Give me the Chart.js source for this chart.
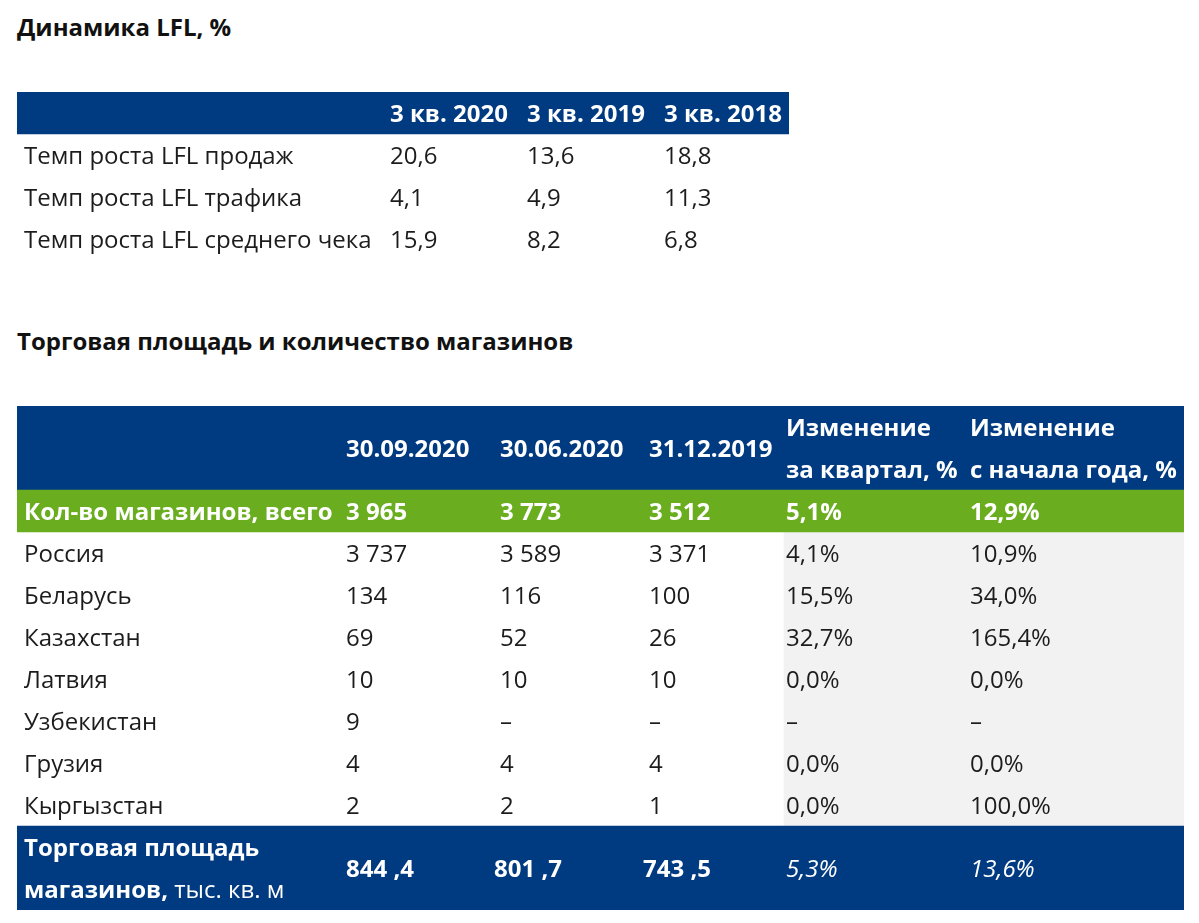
<!DOCTYPE html>
<html lang="ru">
<head>
<meta charset="utf-8">
<title>Динамика LFL и торговая площадь</title>
<script src="https://cdn.jsdelivr.net/npm/chart.js@4.4.1/dist/chart.umd.min.js"></script>
<style>
  body { margin: 0; background: #fff; width: 1199px; height: 923px; position: relative; overflow: hidden; }
  .title { position: absolute; left: 17px; font: bold 24px "Open Sans", sans-serif; color: #111; line-height: 30px; }
  canvas { position: absolute; }
</style>
</head>
<body>
<div class="title" style="top: 12px;">Динамика LFL, %</div>
<canvas id="lfl" width="772" height="168" style="left:17px; top:92px;"></canvas>
<div class="title" style="top: 326px;">Торговая площадь и количество магазинов</div>
<canvas id="stores" width="1167" height="504" style="left:17px; top:406px;"></canvas>
<script>
// --- LFL table data
const lflColumns = ['3 кв. 2020', '3 кв. 2019', '3 кв. 2018']
const lflRows = ['Темп роста LFL продаж', 'Темп роста LFL трафика', 'Темп роста LFL среднего чека']
const lflSales = [20.6, 13.6, 18.8]
const lflTraffic = [4.1, 4.9, 11.3]
const lflTicket = [15.9, 8.2, 6.8]

// --- stores table data
const storeDates = ['30.09.2020', '30.06.2020', '31.12.2019']
const changeHeaders = [['Изменение', 'за квартал, %'], ['Изменение', 'с начала года, %']]
const totalLabel = 'Кол-во магазинов, всего'
const totalStores = [3965, 3773, 3512]
const totalChange = [5.1, 12.9]
const countries = ['Россия', 'Беларусь', 'Казахстан', 'Латвия', 'Узбекистан', 'Грузия', 'Кыргызстан']
const stores2020q3 = [3737, 134, 69, 10, 9, 4, 2]
const stores2020q2 = [3589, 116, 52, 10, null, 4, 2]
const stores2019 = [3371, 100, 26, 10, null, 4, 1]
const changeQuarter = [4.1, 15.5, 32.7, 0.0, null, 0.0, 0.0]
const changeYtd = [10.9, 34.0, 165.4, 0.0, null, 0.0, 100.0]
const areaLabel = ['Торговая площадь', 'магазинов,', ' тыс. кв. м']
const salesArea = [844.4, 801.7, 743.5]
const areaChange = [5.3, 13.6]

// --- styles / layout
const BLUE = '#003a80'
const GREEN = '#6aae1f'
const GREY = '#f2f2f2'
const INK = '#1c1c1c'
const FONT = '"Open Sans", sans-serif'
const SIZE = 24
const NUDGE = 2 // canvas "middle" sits a bit high for Open Sans

const dec = v => v == null ? '–' : v.toFixed(1).replace('.', ',')
const pct = v => v == null ? '–' : dec(v) + '%'
const thousands = v => v == null ? '–' : String(v).replace(/\B(?=(\d{3})+(?!\d))/g, ' ')
const area = v => Math.floor(v) + ' ,' + Math.round((v % 1) * 10)

function text(ctx, s, x, y, weight, color, style) {
  ctx.font = (style || '') + ' ' + weight + ' ' + SIZE + 'px ' + FONT
  ctx.fillStyle = color
  ctx.textAlign = 'left'
  ctx.textBaseline = 'middle'
  ctx.fillText(s, x, y + NUDGE)
  return ctx.measureText(s).width
}

function tableOptions(width) {
  return {
    indexAxis: 'y',
    responsive: false,
    animation: false,
    layout: { padding: 0 },
    plugins: { legend: { display: false }, tooltip: { enabled: false } },
    scales: {
      x: { type: 'linear', min: 0, max: width, display: false },
      y: { type: 'category', display: false, offset: true }
    }
  }
}

function rowBars(data, color) {
  return {
    data: data, backgroundColor: color, borderWidth: 0, borderSkipped: false,
    barPercentage: 1, categoryPercentage: 1, grouped: false
  }
}

// LFL table
const lflColX = [7, 373, 510, 647]
const lflValues = [lflSales, lflTraffic, lflTicket]

new Chart(document.getElementById('lfl'), {
  type: 'bar',
  data: {
    labels: ['header', ...lflRows],
    datasets: [rowBars([[0, 772], null, null, null], BLUE)]
  },
  options: tableOptions(772),
  plugins: [{
    id: 'lflText',
    afterDatasetsDraw(chart) {
      const { ctx, scales: { x, y } } = chart
      const y0 = y.getPixelForValue(0)
      lflColumns.forEach((c, i) => text(ctx, c, x.getPixelForValue(lflColX[i + 1]), y0, 'bold', '#fff'))
      lflRows.forEach((r, ri) => {
        const yy = y.getPixelForValue(ri + 1)
        text(ctx, r, x.getPixelForValue(lflColX[0]), yy, 'normal', INK)
        lflValues[ri].forEach((v, i) => text(ctx, dec(v), x.getPixelForValue(lflColX[i + 1]), yy, 'normal', INK))
      })
    }
  }]
})

// stores table
const storeColX = [7, 329, 483, 632, 769, 953]
const areaColX = [329, 477, 626]
const storeLabels = ['header-a', 'header-b', totalLabel, ...countries, 'footer-a', 'footer-b']
const nRows = storeLabels.length
const rowBg = storeLabels.map((l, i) => (i <= 2 || i >= nRows - 2) ? [0, 1167] : null)
const rowColors = storeLabels.map((l, i) => i === 2 ? GREEN : BLUE)
const greyBg = storeLabels.map((l, i) => (i > 2 && i < nRows - 2) ? [767, 1167] : null)

new Chart(document.getElementById('stores'), {
  type: 'bar',
  data: {
    labels: storeLabels,
    datasets: [rowBars(rowBg, rowColors), rowBars(greyBg, GREY)]
  },
  options: tableOptions(1167),
  plugins: [{
    id: 'storeText',
    afterDatasetsDraw(chart) {
      const { ctx, scales: { x, y } } = chart
      const px = v => x.getPixelForValue(v)
      const mid = (a, b) => (y.getPixelForValue(a) + y.getPixelForValue(b)) / 2

      // header
      storeDates.forEach((d, i) => text(ctx, d, px(storeColX[i + 1]), mid(0, 1), 'bold', '#fff'))
      changeHeaders.forEach((h, i) => {
        text(ctx, h[0], px(storeColX[i + 4]), y.getPixelForValue(0), 'bold', '#fff')
        text(ctx, h[1], px(storeColX[i + 4]), y.getPixelForValue(1), 'bold', '#fff')
      })

      // total row
      const yt = y.getPixelForValue(2)
      text(ctx, totalLabel, px(storeColX[0]), yt, 'bold', '#fff')
      totalStores.forEach((v, i) => text(ctx, thousands(v), px(storeColX[i + 1]), yt, 'bold', '#fff'))
      totalChange.forEach((v, i) => text(ctx, pct(v), px(storeColX[i + 4]), yt, 'bold', '#fff'))

      // countries
      countries.forEach((c, ri) => {
        const yy = y.getPixelForValue(ri + 3)
        const cells = [c, thousands(stores2020q3[ri]), thousands(stores2020q2[ri]), thousands(stores2019[ri]),
          pct(changeQuarter[ri]), pct(changeYtd[ri])]
        cells.forEach((s, i) => text(ctx, s, px(storeColX[i]), yy, 'normal', INK))
      })

      // sales area row
      const f0 = nRows - 2
      text(ctx, areaLabel[0], px(storeColX[0]), y.getPixelForValue(f0), 'bold', '#fff')
      const w = text(ctx, areaLabel[1], px(storeColX[0]), y.getPixelForValue(f0 + 1), 'bold', '#fff')
      text(ctx, areaLabel[2], px(storeColX[0]) + w, y.getPixelForValue(f0 + 1), 'normal', '#fff')
      const ya = mid(f0, f0 + 1)
      salesArea.forEach((v, i) => text(ctx, area(v), px(areaColX[i]), ya, 'bold', '#fff'))
      areaChange.forEach((v, i) => text(ctx, pct(v), px(storeColX[i + 4]), ya, 'normal', '#fff', 'italic'))
    }
  }]
})
</script>
</body>
</html>
